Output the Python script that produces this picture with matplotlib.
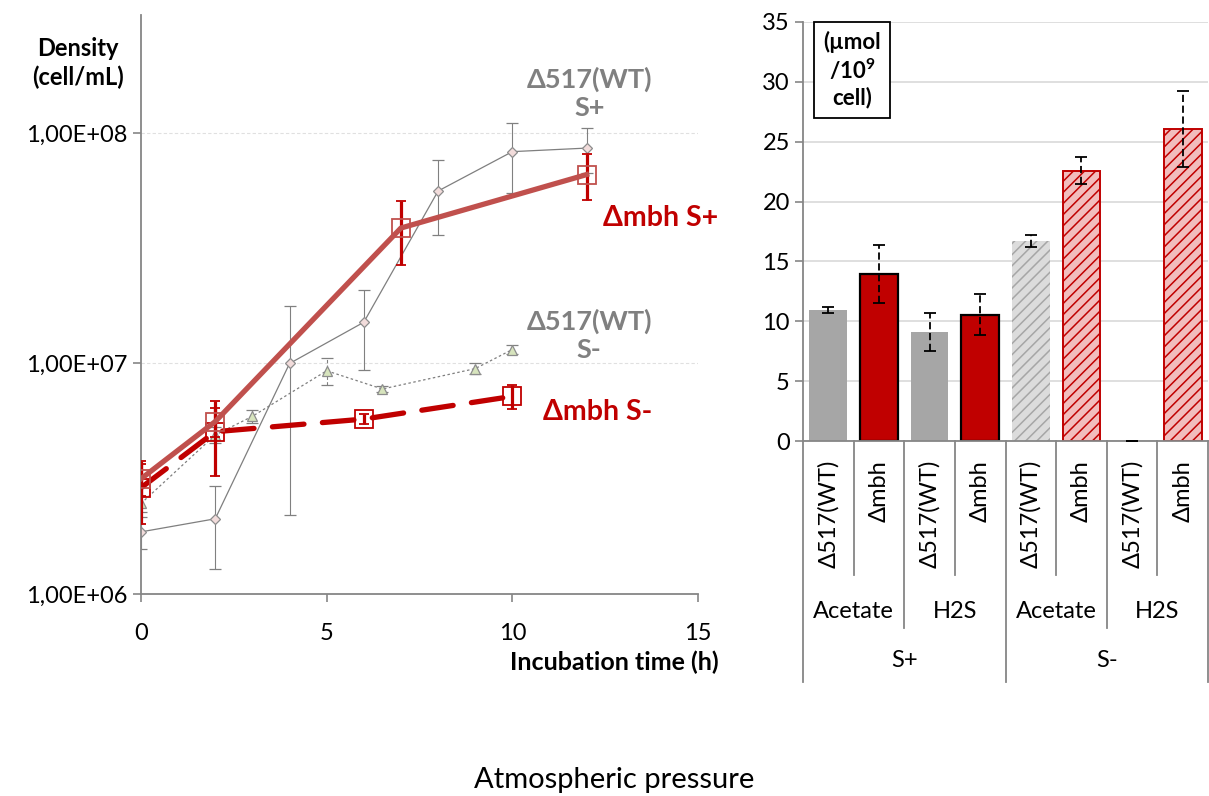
import matplotlib
matplotlib.use('Agg')
import matplotlib.pyplot as plt
import numpy as np
from matplotlib.patches import Rectangle
from matplotlib.ticker import NullLocator

plt.rcParams['font.family'] = ['Lato', 'DejaVu Sans']
plt.rcParams['mathtext.fontset'] = 'custom'
plt.rcParams['mathtext.bf'] = 'Lato:bold'
plt.rcParams['mathtext.rm'] = 'Lato'
plt.rcParams['hatch.linewidth'] = 1.1

# growth curves (left panel)
wt_sp_time = [0, 2, 4, 6, 8, 10, 12]
wt_sp_dens = [1.86e6, 2.12e6, 1.0e7, 1.51e7, 5.6e7, 8.3e7, 8.6e7]
wt_sp_err = [0.3e6, 0.83e6, 7.8e6, 5.7e6, 2.0e7, 2.8e7, 1.9e7]

wt_sm_time = [0, 2, 3, 5, 6.5, 9, 10]
wt_sm_dens = [2.47e6, 4.9e6, 5.9e6, 9.3e6, 7.75e6, 9.5e6, 1.15e7]
wt_sm_err = [0.2e6, 0.4e6, 0.4e6, 1.25e6, 0.2e6, 0.5e6, 0.5e6]

mbh_sp_time = [0, 2, 7, 12]
mbh_sp_dens = [3.16e6, 5.6e6, 3.87e7, 6.6e7]
mbh_sp_err = [0.5e6, 0.8e6, 1.2e7, 1.5e7]

mbh_sm_time = [0, 2, 6, 10]
mbh_sm_dens = [2.89e6, 5.06e6, 5.74e6, 7.2e6]
mbh_sm_err = [0.87e6, 1.8e6, 0.3e6, 0.87e6]

left_yticks = [1e6, 1e7, 1e8]
left_ylabels = ['1,00E+06', '1,00E+07', '1,00E+08']
left_xticks = [0, 5, 10, 15]

# production per cell (right panel)
bar_strain = ['Δ517(WT)', 'Δmbh'] * 4
bar_product = ['Acetate', 'H2S', 'Acetate', 'H2S']
bar_sulfur = ['S+', 'S-']
bar_vals = [10.93, 13.94, 9.1, 10.55, 16.69, 22.59, 0, 26.07]
bar_err = [0.25, 2.4, 1.6, 1.7, 0.5, 1.1, 0, 3.15]

GREY_TXT = '#808080'
RED = '#C00000'
AXC = '#868686'

fig = plt.figure(figsize=(12.09, 7.96), dpi=100)

# ---------------- left: growth curves ----------------
ax = fig.add_axes([141/1209, 202/796, 557/1209, 579/796])
ax.set_yscale('log')

eb = ax.errorbar(wt_sp_time, wt_sp_dens, yerr=wt_sp_err, color='#7F7F7F', lw=0.9,
                 marker='D', ms=5.5, mfc='#F2DCDB', mec='#8C8C8C', mew=0.9,
                 ecolor='#808080', elinewidth=0.8, capsize=4, capthick=0.8, zorder=2)

eb = ax.errorbar(wt_sm_time, wt_sm_dens, yerr=wt_sm_err, color='#7F7F7F', lw=0.9,
                 ls=(0, (2, 2)), marker='^', ms=6.5, mfc='#D7E4BD', mec='#8C8C8C', mew=0.9,
                 ecolor='#808080', elinewidth=0.8, capsize=4, capthick=0.8, zorder=2)
eb[2][0].set_linestyle((0, (3, 2)))

eb = ax.errorbar(mbh_sm_time, mbh_sm_dens, yerr=mbh_sm_err, color=RED, lw=3.8,
                 marker='s', ms=13, mfc='none', mec=RED, mew=1.3,
                 ecolor=RED, elinewidth=2.3, capsize=3.5, capthick=2.3, zorder=3)
eb[0].set_dashes((6, 3.5))
eb[0].set_dash_capstyle('round')

ax.errorbar(mbh_sp_time, mbh_sp_dens, yerr=mbh_sp_err, color='#C0504D', lw=3.8,
            marker='s', ms=13, mfc='none', mec='#C0504D', mew=1.3,
            ecolor=RED, elinewidth=2.3, capsize=3.5, capthick=2.3, zorder=4)

ax.set_xlim(0, 15)
ax.set_ylim(1e6, 3.25e8)
ax.set_xticks(left_xticks)
ax.set_yticks(left_yticks)
ax.set_yticklabels(left_ylabels)
ax.yaxis.set_minor_locator(NullLocator())
ax.tick_params(labelsize=17, color=AXC, length=6, width=1.2)
ax.tick_params(axis='x', pad=15)
for s in ['top', 'right']:
    ax.spines[s].set_visible(False)
for s in ['left', 'bottom']:
    ax.spines[s].set_color(AXC)
    ax.spines[s].set_linewidth(1.3)
ax.yaxis.grid(True, color='#E0E0E0', ls=(0, (3, 2)), lw=0.8)
ax.set_axisbelow(True)

ax.text(12.07, 1.49e8, 'Δ517(WT)\nS+', color=GREY_TXT, fontsize=19.5, fontweight='bold',
        ha='center', va='center', linespacing=1.2)
ax.text(12.07, 1.33e7, 'Δ517(WT)\nS-', color=GREY_TXT, fontsize=19.5, fontweight='bold',
        ha='center', va='center', linespacing=1.2)
ax.text(14.0, 4.28e7, 'Δmbh S+', color=RED, fontsize=20.5, fontweight='bold',
        ha='center', va='center', clip_on=False)
ax.text(12.3, 6.17e6, 'Δmbh S-', color=RED, fontsize=20.5, fontweight='bold',
        ha='center', va='center')

fig.text(78/1209, 1 - 63/796, 'Density\n(cell/mL)', fontsize=17, fontweight='bold',
         ha='center', va='center', linespacing=1.3)
fig.text(614/1209, 1 - 662/796, 'Incubation time (h)', fontsize=18, fontweight='bold',
         ha='center', va='center')
fig.text(614/1209, 1 - 780/796, 'Atmospheric pressure', fontsize=21,
         ha='center', va='center')

# ---------------- right: bar chart ----------------
ax2 = fig.add_axes([803/1209, 355/796, 405/1209, 419/796])
x = np.arange(len(bar_vals))
face = ['#A6A6A6', RED, '#A6A6A6', RED, '#DCDCDC', '#F2BDBD', '#A6A6A6', '#F2BDBD']
edge = ['#A6A6A6', 'black', '#A6A6A6', 'black', '#A6A6A6', RED, '#A6A6A6', RED]
hatch = [None, None, None, None, '///', '///', None, '///']
blw = [0, 1.6, 0, 1.6, 0, 1.4, 0, 1.4]
for i in range(len(bar_vals)):
    ax2.bar(x[i], bar_vals[i], width=0.745, color=face[i], edgecolor=edge[i],
            hatch=hatch[i], linewidth=blw[i], zorder=2)

eb = ax2.errorbar(x, bar_vals, yerr=bar_err, fmt='none', ecolor='black',
                  elinewidth=1.3, capsize=4.5, capthick=1.3, zorder=3)
eb[2][0].set_linestyle((0, (4, 2)))

ax2.set_xlim(-0.5, 7.5)
ax2.set_ylim(0, 35)
ax2.set_yticks(np.arange(0, 36, 5))
ax2.set_xticks([])
ax2.tick_params(axis='y', labelsize=17, color=AXC, length=6, width=1.2)
for s in ['top', 'right']:
    ax2.spines[s].set_visible(False)
for s in ['left', 'bottom']:
    ax2.spines[s].set_color(AXC)
    ax2.spines[s].set_linewidth(1.3)
ax2.yaxis.grid(True, color='#D9D9D9', lw=1.2)
ax2.set_axisbelow(True)

# unit box
ax2.add_patch(Rectangle((0.027, 0.771), 0.188, 0.229, transform=ax2.transAxes,
                        facecolor='white', edgecolor='black', lw=1.3, zorder=5,
                        clip_on=False))
ax2.text(0.121, 0.886, '(µmol\n/10$^{\\mathbf{9}}$\ncell)', transform=ax2.transAxes,
         fontsize=16, fontweight='bold', ha='center', va='center', zorder=6,
         linespacing=1.2)

# multi-level category axis
trans = ax2.get_xaxis_transform()
for k in range(len(bar_vals) + 1):
    xs = k - 0.5
    if k % 4 == 0:
        yb = -0.575
    elif k % 2 == 0:
        yb = -0.446
    else:
        yb = -0.32
    ax2.plot([xs, xs], [0, yb], color=AXC, lw=1.3, transform=trans, clip_on=False)

for i, lab in enumerate(bar_strain):
    ax2.text(x[i], -0.045, lab, transform=trans, rotation=90, ha='center', va='top',
             fontsize=17)
for j, lab in enumerate(bar_product):
    ax2.text(2 * j + 0.5, -0.408, lab, transform=trans, ha='center', va='center',
             fontsize=17)
for j, lab in enumerate(bar_sulfur):
    ax2.text(4 * j + 1.5, -0.523, lab, transform=trans, ha='center', va='center',
             fontsize=17)

fig.savefig('out.png', dpi=100)
